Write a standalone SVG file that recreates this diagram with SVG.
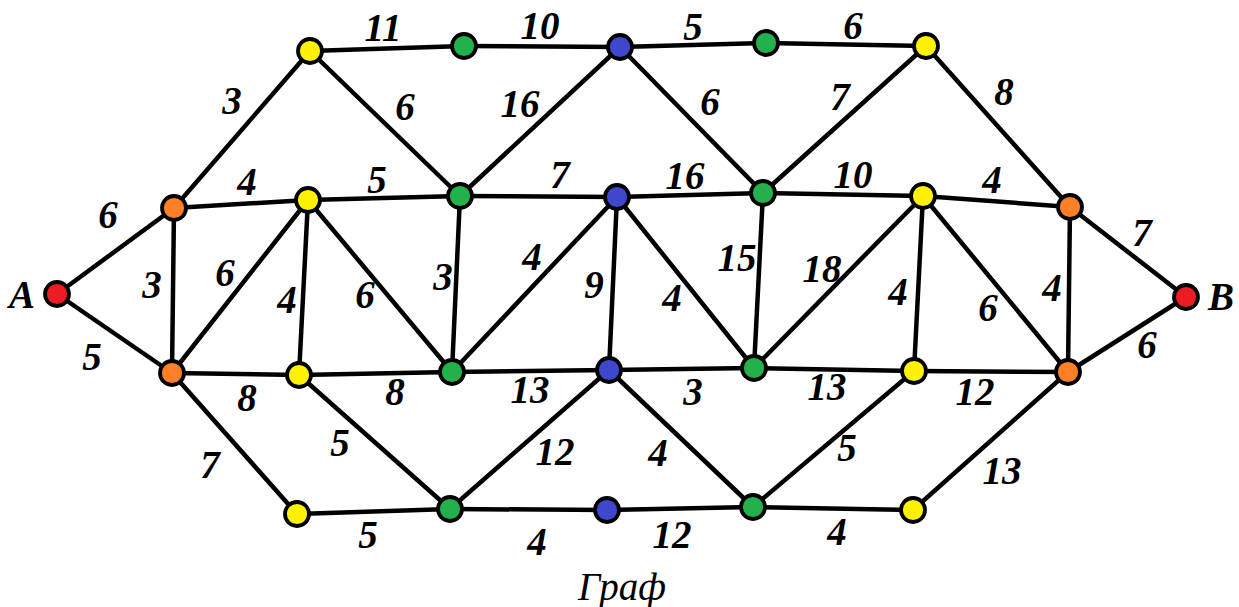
<svg xmlns="http://www.w3.org/2000/svg" width="1239" height="607" viewBox="0 0 1239 607">
<style>
.e{stroke:#000;stroke-width:4.5;fill:none;stroke-linecap:round}
.n{stroke:#000;stroke-width:3.8}
.y{fill:#FFF200}.g{fill:#22B14C}.b{fill:#3F48CC}.o{fill:#FF7F27}.r{fill:#ED1C24}
.l{font-family:"Liberation Serif","Times New Roman",serif;font-style:italic;font-weight:bold;font-size:39px;text-anchor:middle;fill:#000}
.c{font-family:"Liberation Serif","Times New Roman",serif;font-style:italic;font-size:39px;text-anchor:middle;fill:#000}
</style>
<rect width="1239" height="607" fill="#fff"/>
<g id="connectors">
<line class="e" x1="57" y1="294" x2="174" y2="208"/>
<line class="e" x1="57" y1="294" x2="172" y2="373"/>
<line class="e" x1="174" y1="208" x2="310" y2="51"/>
<line class="e" x1="174" y1="208" x2="308" y2="200"/>
<line class="e" x1="174" y1="208" x2="172" y2="373"/>
<line class="e" x1="172" y1="373" x2="308" y2="200"/>
<line class="e" x1="310" y1="51" x2="464" y2="46"/>
<line class="e" x1="464" y1="46" x2="620" y2="47"/>
<line class="e" x1="620" y1="47" x2="766" y2="43"/>
<line class="e" x1="766" y1="43" x2="926" y2="46"/>
<line class="e" x1="310" y1="51" x2="460" y2="196"/>
<line class="e" x1="460" y1="196" x2="620" y2="47"/>
<line class="e" x1="620" y1="47" x2="763" y2="193"/>
<line class="e" x1="763" y1="193" x2="926" y2="46"/>
<line class="e" x1="926" y1="46" x2="1070" y2="207"/>
<line class="e" x1="308" y1="200" x2="460" y2="196"/>
<line class="e" x1="460" y1="196" x2="617" y2="197"/>
<line class="e" x1="617" y1="197" x2="763" y2="193"/>
<line class="e" x1="763" y1="193" x2="923" y2="196"/>
<line class="e" x1="923" y1="196" x2="1070" y2="207"/>
<line class="e" x1="1070" y1="207" x2="1186" y2="297"/>
<line class="e" x1="308" y1="200" x2="299" y2="375"/>
<line class="e" x1="308" y1="200" x2="452" y2="372"/>
<line class="e" x1="460" y1="196" x2="452" y2="372"/>
<line class="e" x1="452" y1="372" x2="617" y2="197"/>
<line class="e" x1="617" y1="197" x2="609" y2="370"/>
<line class="e" x1="617" y1="197" x2="754" y2="368"/>
<line class="e" x1="763" y1="193" x2="754" y2="368"/>
<line class="e" x1="754" y1="368" x2="923" y2="196"/>
<line class="e" x1="923" y1="196" x2="914" y2="371"/>
<line class="e" x1="923" y1="196" x2="1068" y2="372"/>
<line class="e" x1="1070" y1="207" x2="1068" y2="372"/>
<line class="e" x1="1068" y1="372" x2="1186" y2="297"/>
<line class="e" x1="172" y1="373" x2="299" y2="375"/>
<line class="e" x1="299" y1="375" x2="452" y2="372"/>
<line class="e" x1="452" y1="372" x2="609" y2="370"/>
<line class="e" x1="609" y1="370" x2="754" y2="368"/>
<line class="e" x1="754" y1="368" x2="914" y2="371"/>
<line class="e" x1="914" y1="371" x2="1068" y2="372"/>
<line class="e" x1="172" y1="373" x2="297" y2="514"/>
<line class="e" x1="299" y1="375" x2="450" y2="509"/>
<line class="e" x1="450" y1="509" x2="609" y2="370"/>
<line class="e" x1="609" y1="370" x2="753" y2="507"/>
<line class="e" x1="753" y1="507" x2="914" y2="371"/>
<line class="e" x1="1068" y1="372" x2="913" y2="510"/>
<line class="e" x1="297" y1="514" x2="450" y2="509"/>
<line class="e" x1="450" y1="509" x2="607" y2="510"/>
<line class="e" x1="607" y1="510" x2="753" y2="507"/>
<line class="e" x1="753" y1="507" x2="913" y2="510"/>
</g>
<g id="labels">
<text class="l" x="383" y="41">11</text>
<text class="l" x="540" y="39">10</text>
<text class="l" x="693" y="40">5</text>
<text class="l" x="853" y="39">6</text>
<text class="l" x="232" y="114">3</text>
<text class="l" x="405" y="120">6</text>
<text class="l" x="520" y="117">16</text>
<text class="l" x="710" y="115">6</text>
<text class="l" x="840" y="110">7</text>
<text class="l" x="1004" y="105">8</text>
<text class="l" x="108" y="228">6</text>
<text class="l" x="247" y="195">4</text>
<text class="l" x="377" y="193">5</text>
<text class="l" x="560" y="188">7</text>
<text class="l" x="685" y="189">16</text>
<text class="l" x="853" y="188">10</text>
<text class="l" x="992" y="193">4</text>
<text class="l" x="1142" y="246">7</text>
<text class="l" x="152" y="298">3</text>
<text class="l" x="225" y="286">6</text>
<text class="l" x="287" y="313">4</text>
<text class="l" x="365" y="308">6</text>
<text class="l" x="443" y="290">3</text>
<text class="l" x="532" y="270">4</text>
<text class="l" x="594" y="298">9</text>
<text class="l" x="672" y="311">4</text>
<text class="l" x="737" y="271">15</text>
<text class="l" x="822" y="282">18</text>
<text class="l" x="898" y="305">4</text>
<text class="l" x="988" y="321">6</text>
<text class="l" x="1052" y="301">4</text>
<text class="l" x="92" y="370">5</text>
<text class="l" x="1147" y="358">6</text>
<text class="l" x="247" y="411">8</text>
<text class="l" x="395" y="405">8</text>
<text class="l" x="530" y="403">13</text>
<text class="l" x="693" y="405">3</text>
<text class="l" x="827" y="400">13</text>
<text class="l" x="975" y="405">12</text>
<text class="l" x="340" y="456">5</text>
<text class="l" x="210" y="478">7</text>
<text class="l" x="555" y="465">12</text>
<text class="l" x="658" y="466">4</text>
<text class="l" x="847" y="461">5</text>
<text class="l" x="1002" y="484">13</text>
<text class="l" x="368" y="548">5</text>
<text class="l" x="537" y="555">4</text>
<text class="l" x="672" y="548">12</text>
<text class="l" x="837" y="545">4</text>
<text class="l" x="22" y="308">A</text>
<text class="l" x="1221" y="310">B</text>
<text class="c" x="622" y="600">Граф</text>
</g>
<g id="nA"><circle class="n r" cx="57" cy="294" r="12"/></g>
<g id="nB"><circle class="n r" cx="1186" cy="297" r="12"/></g>
<g id="t1"><circle class="n y" cx="310" cy="51" r="12"/></g>
<g id="t2"><circle class="n g" cx="464" cy="46" r="12"/></g>
<g id="t3"><circle class="n b" cx="620" cy="47" r="12"/></g>
<g id="t4"><circle class="n g" cx="766" cy="43" r="12"/></g>
<g id="t5"><circle class="n y" cx="926" cy="46" r="12"/></g>
<g id="m0"><circle class="n o" cx="174" cy="208" r="12"/></g>
<g id="m1"><circle class="n y" cx="308" cy="200" r="12"/></g>
<g id="m2"><circle class="n g" cx="460" cy="196" r="12"/></g>
<g id="m3"><circle class="n b" cx="617" cy="197" r="12"/></g>
<g id="m4"><circle class="n g" cx="763" cy="193" r="12"/></g>
<g id="m5"><circle class="n y" cx="923" cy="196" r="12"/></g>
<g id="m6"><circle class="n o" cx="1070" cy="207" r="12"/></g>
<g id="l0"><circle class="n o" cx="172" cy="373" r="12"/></g>
<g id="l1"><circle class="n y" cx="299" cy="375" r="12"/></g>
<g id="l2"><circle class="n g" cx="452" cy="372" r="12"/></g>
<g id="l3"><circle class="n b" cx="609" cy="370" r="12"/></g>
<g id="l4"><circle class="n g" cx="754" cy="368" r="12"/></g>
<g id="l5"><circle class="n y" cx="914" cy="371" r="12"/></g>
<g id="l6"><circle class="n o" cx="1068" cy="372" r="12"/></g>
<g id="b1"><circle class="n y" cx="297" cy="514" r="12"/></g>
<g id="b2"><circle class="n g" cx="450" cy="509" r="12"/></g>
<g id="b3"><circle class="n b" cx="607" cy="510" r="12"/></g>
<g id="b4"><circle class="n g" cx="753" cy="507" r="12"/></g>
<g id="b5"><circle class="n y" cx="913" cy="510" r="12"/></g>
</svg>
